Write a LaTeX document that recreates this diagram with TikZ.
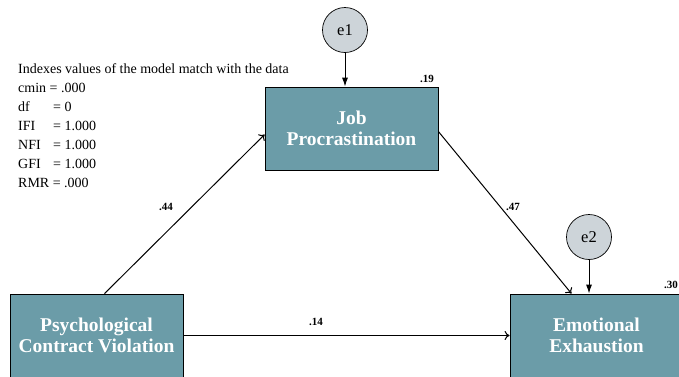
\documentclass[tikz,border=0pt]{standalone}
\usepackage{fontspec}
\setmainfont{Liberation Serif}
\usetikzlibrary{arrows.meta,calc}
\definecolor{boxfill}{HTML}{6B9CA8}
\definecolor{errfill}{HTML}{CDD4D9}
\newcommand{\idxlab}[1]{\makebox[35pt][l]{#1}}
\begin{document}
\begin{tikzpicture}[x=1pt,y=-1pt,
  varbox/.style={draw=black,line width=0.8pt,fill=boxfill,minimum width=173pt,minimum height=83pt,
    text=white,font=\fontsize{19.5}{21.5}\selectfont\bfseries,align=center,inner sep=0pt},
  errc/.style={circle,draw=black,line width=0.7pt,fill=errfill,minimum size=45pt,inner sep=0pt,
    font=\fontsize{16.5}{18}\selectfont},
  patharrow/.style={draw,line width=1pt,-{To[length=5pt,width=9pt]}},
  errarrow/.style={draw,line width=1pt,-{Latex[length=9pt,width=6pt]}},
  coef/.style={font=\fontsize{11}{13}\selectfont\bfseries,inner sep=0pt},
  info/.style={font=\fontsize{14}{19}\selectfont,align=left,anchor=north west,inner sep=0pt}]
\clip (0,0) rectangle (679,376);
\fill[white] (0,0) rectangle (679,376);
\node[varbox] (jp) at (351.5,128.5) {Job\\Procrastination};
\node[varbox] (pcv) at (96.5,335.5) {Psychological\\Contract Violation};
\node[varbox] (ee) at (596.5,335.5) {Emotional\\Exhaustion};
\node[errc] (e1) at (345,30) {e1};
\node[errc] (e2) at (589,237) {e2};
\draw[errarrow] (e1) -- (e1 |- jp.north);
\draw[errarrow] (e2) -- (e2 |- ee.north);
\draw[patharrow] ($(pcv.north)+(8,0)$) -- ($(jp.west)+(0,6)$);
\draw[patharrow] ($(jp.east)+(0,3)$) -- ($(ee.north)+(-25,0)$);
\draw[patharrow] (pcv.east) -- (ee.west);
\node[coef] (r1) at (427,79) {.19};
\node[coef] (r2) at (671,285) {.30};
\node[coef] (c1) at (166,207) {.44};
\node[coef] (c2) at (513,207) {.47};
\node[coef] (c3) at (316,322) {.14};
\node[info] (idx) at (18,63) {Indexes values of the model match with the data\\
cmin = .000\\
\idxlab{df}= 0\\
\idxlab{IFI}= 1.000\\
\idxlab{NFI}= 1.000\\
\idxlab{GFI}= 1.000\\
RMR = .000};
\end{tikzpicture}
\end{document}
